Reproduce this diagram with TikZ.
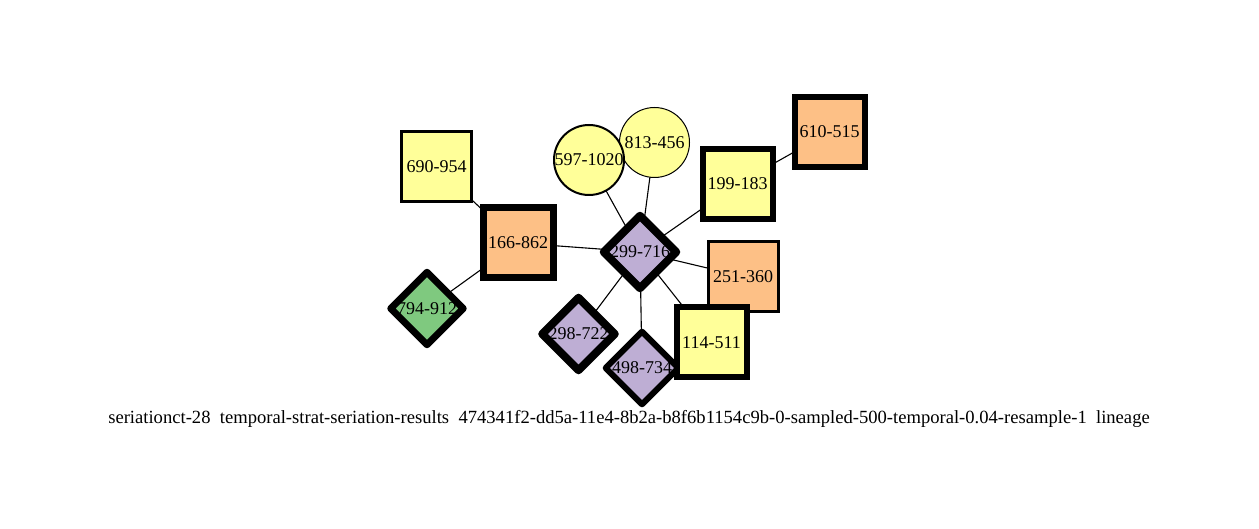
\documentclass[tikz,border=0pt]{standalone}
\usepackage{fontspec}
\setmainfont{Liberation Serif}
\usetikzlibrary{shapes.geometric,backgrounds}
\definecolor{cy}{HTML}{FFFF99}
\definecolor{co}{HTML}{FDC086}
\definecolor{cp}{HTML}{BEAED4}
\definecolor{cg}{HTML}{7FC97F}
\begin{document}
\begin{tikzpicture}[x=1pt,y=-1pt,
  lab/.style={font=\fontsize{18}{20}\selectfont, inner sep=0pt},
  sq/.style={draw, rectangle, minimum size=70pt, inner sep=0pt, line join=miter, lab},
  circ/.style={draw, circle, minimum size=70pt, inner sep=0pt, lab},
  diam/.style={fill, diamond, aspect=1, minimum size=70pt, inner sep=0pt, lab},
  edge/.style={line width=1.1pt}]
\useasboundingbox (0,0) rectangle (1259,529);
\node[sq, fill=cy, line width=3pt] (n690) at (436.5,167) {690-954};
\node[sq, fill=co, line width=7pt] (n166) at (518,243) {166-862};
\node[diam, fill=cg] (n794) at (427,308.5) {794-912};
\node[circ, fill=cy, line width=1pt] (n813) at (654.5,142.5) {813-456};
\node[circ, fill=cy, line width=2pt] (n597) at (589,160) {597-1020};
\node[sq, fill=cy, line width=6pt] (n199) at (737.5,184) {199-183};
\node[sq, fill=co, line width=6pt] (n610) at (829.5,132) {610-515};
\node[diam, fill=cp] (n299) at (640,252) {299-716};
\node[sq, fill=co, line width=3pt] (n251) at (743,276.5) {251-360};
\node[diam, fill=cp] (n298) at (578.5,334) {298-722};
\node[diam, fill=cp] (n498) at (642,368) {498-734};
\draw[line width=7pt, line join=round] (n794.north)--(n794.east)--(n794.south)--(n794.west)--cycle;
\draw[line width=8pt, line join=round] (n299.north)--(n299.east)--(n299.south)--(n299.west)--cycle;
\draw[line width=8pt, line join=round] (n298.north)--(n298.east)--(n298.south)--(n298.west)--cycle;
\draw[line width=6pt, line join=round] (n498.north)--(n498.east)--(n498.south)--(n498.west)--cycle;
\node[sq, fill=cy, line width=6pt] (n114) at (711.5,342.5) {114-511};
\begin{pgfonlayer}{background}
\draw[edge] (n299.center) -- (n597.center);
\draw[edge] (n299.center) -- (n813.center);
\draw[edge] (n299.center) -- (n199.center);
\draw[edge] (n299.center) -- (n166.center);
\draw[edge] (n299.center) -- (n251.center);
\draw[edge] (n299.center) -- (n114.center);
\draw[edge] (n299.center) -- (n298.center);
\draw[edge] (n299.center) -- (n498.center);
\draw[edge] (n166.center) -- (n690.center);
\draw[edge] (n166.center) -- (n794.center);
\draw[edge] (n199.center) -- (n610.center);
\end{pgfonlayer}
\node[font=\fontsize{18.6}{20}\selectfont, inner sep=0pt, anchor=base] (cap) at (629,424) {seriationct-28\ \ temporal-strat-seriation-results\ \ 474341f2-dd5a-11e4-8b2a-b8f6b1154c9b-0-sampled-500-temporal-0.04-resample-1\ \ lineage};
\end{tikzpicture}
\end{document}
